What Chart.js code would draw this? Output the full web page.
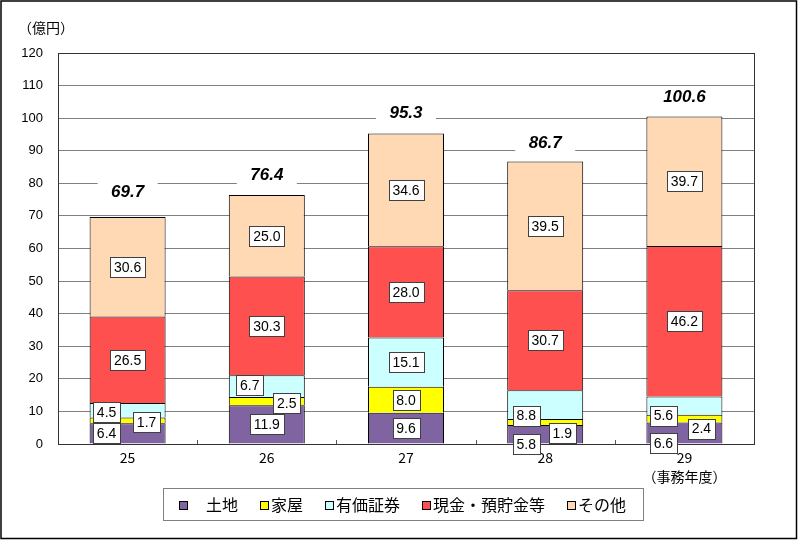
<!DOCTYPE html>
<html><head><meta charset="utf-8">
<script src="https://cdn.jsdelivr.net/npm/chart.js@4"></script>
<style>html,body{margin:0;padding:0;background:#fff}#wrap{width:800px;height:541px}</style>
</head><body><div id="wrap"><canvas id="c" width="800" height="541"></canvas></div>
<script>
// ---- data ----
const years = ['25', '26', '27', '28', ['29', '（事務年度）']];
const seriesNames = ['土地', '家屋', '有価証券', '現金・預貯金等', 'その他'];
const land = [6.4, 11.9, 9.6, 5.8, 6.6];
const houses = [1.7, 2.5, 8.0, 1.9, 2.4];
const securities = [4.5, 6.7, 15.1, 8.8, 5.6];
const cash = [26.5, 30.3, 28.0, 30.7, 46.2];
const other = [30.6, 25.0, 34.6, 39.5, 39.7];
const totals = [69.7, 76.4, 95.3, 86.7, 100.6];
const yUnit = '（億円）';

// ---- styles / layout (kept separate from data) ----
const colors = ['#8064A2', '#FFFF00', '#CCFFFF', '#FF5050', '#FFD8B4'];
const FONT = '"Liberation Sans", Arial, "Noto Sans CJK JP", sans-serif';
const JFONT = '"Noto Sans CJK JP", "Liberation Sans", sans-serif';
// label nudges [dx, dy] in px for small segments, keyed "dataset-index"
const labelNudge = {
  '0-0': [-21, 0], '1-0': [19, 2], '2-0': [-21, 2],
  '1-1': [20, 2], '2-1': [-17, -1],
  '0-3': [-19, 10], '1-3': [17, 11], '2-3': [-19, 11],
  '0-4': [-21, 10], '1-4': [17, 10], '2-4': [-21, 10]
};
const totalDy = [-25, -20, -20, -18, -19];

const seriesValues = [land, houses, securities, cash, other];

const overlay = {
  id: 'overlay',
  beforeDraw(chart) {
    const ctx = chart.ctx;
    ctx.save();
    ctx.fillStyle = '#fff';
    ctx.fillRect(0, 0, chart.width, chart.height);
    ctx.restore();
  },
  afterDatasetsDraw(chart) {
    const ctx = chart.ctx;
    const ca = chart.chartArea;
    ctx.save();
    // plot border
    ctx.strokeStyle = '#333';
    ctx.lineWidth = 1;
    ctx.strokeRect(Math.round(ca.left) + 0.5, Math.round(ca.top) + 0.5,
      Math.round(ca.right - ca.left), Math.round(ca.bottom - ca.top));
    // small category ticks
    const m0 = chart.getDatasetMeta(0).data;
    ctx.strokeStyle = '#555';
    for (let i = 0; i < m0.length - 1; i++) {
      const x = Math.round((m0[i].x + m0[i + 1].x) / 2) + 0.5;
      ctx.beginPath();
      ctx.moveTo(x, ca.bottom - 4);
      ctx.lineTo(x, ca.bottom);
      ctx.stroke();
    }
    // value labels
    ctx.font = '14px ' + FONT;
    ctx.textAlign = 'center';
    ctx.textBaseline = 'middle';
    chart.data.datasets.forEach((ds, di) => {
      const meta = chart.getDatasetMeta(di);
      meta.data.forEach((el, i) => {
        const v = ds.data[i];
        const txt = v.toFixed(1);
        const nd = labelNudge[di + '-' + i] || [0, 0];
        const cx = el.x + nd[0];
        const cy = (el.y + el.base) / 2 + nd[1];
        const w = Math.round(ctx.measureText(txt).width) + 8;
        const h = 20;
        const bx = Math.round(cx - w / 2) + 0.5, by = Math.round(cy - h / 2) + 0.5;
        ctx.fillStyle = '#fff';
        ctx.fillRect(bx, by, w, h);
        ctx.strokeStyle = '#404040';
        ctx.lineWidth = 1;
        ctx.strokeRect(bx, by, w, h);
        ctx.fillStyle = '#000';
        ctx.fillText(txt, cx, cy + 1);
      });
    });
    // totals
    const y = chart.scales.y;
    const topMeta = chart.getDatasetMeta(chart.data.datasets.length - 1).data;
    ctx.font = 'italic bold 17px ' + FONT;
    totals.forEach((t, i) => {
      const cx = topMeta[i].x;
      const cy = y.getPixelForValue(t) + totalDy[i];
      ctx.fillStyle = '#fff';
      ctx.fillRect(cx - 30, cy - 11, 60, 22);
      ctx.fillStyle = '#000';
      ctx.fillText(t.toFixed(1), cx, cy);
    });
    ctx.restore();
  },
  afterDraw(chart) {
    const ctx = chart.ctx;
    ctx.save();
    // y unit
    ctx.font = '14px ' + JFONT;
    ctx.fillStyle = '#000';
    ctx.textAlign = 'left';
    ctx.textBaseline = 'middle';
    ctx.fillText(yUnit, 18, 28);
    // legend
    const lx = 163, ly = 488, lw = 480, lh = 32;
    ctx.strokeStyle = '#808080';
    ctx.lineWidth = 1;
    ctx.strokeRect(lx + 0.5, ly + 0.5, lw, lh);
    ctx.font = '16px ' + JFONT;
    const labels = chart.data.datasets.map((d, i) => (i === 0 ? '　' : '') + d.label);
    const box = 8, gapBox = 3, gapItem = 22;
    const widths = labels.map(t => box + gapBox + ctx.measureText(t).width);
    const total = widths.reduce((a, b) => a + b, 0) + gapItem * (labels.length - 1);
    let x = Math.round(lx + lw / 2 - total / 2);
    const cy = ly + lh / 2 + 0.5;
    labels.forEach((t, i) => {
      ctx.fillStyle = chart.data.datasets[i].backgroundColor;
      ctx.fillRect(x + 0.5, Math.round(cy - box / 2) + 0.5, box, box);
      ctx.strokeStyle = '#000';
      ctx.strokeRect(x + 0.5, Math.round(cy - box / 2) + 0.5, box, box);
      ctx.fillStyle = '#000';
      ctx.fillText(t, x + box + gapBox, cy);
      x += widths[i] + gapItem;
    });
    // outer frame
    ctx.strokeStyle = '#000';
    ctx.lineWidth = 1.5;
    ctx.strokeRect(1, 1, 795.5, 537.5);
    ctx.restore();
  }
};

new Chart(document.getElementById('c'), {
  type: 'bar',
  data: {
    labels: years,
    datasets: seriesNames.map((n, i) => ({
      label: n,
      data: seriesValues[i],
      backgroundColor: colors[i],
      borderColor: '#000',
      borderWidth: 1,
      borderSkipped: 'start',
      barPercentage: 0.546,
      categoryPercentage: 1.0
    }))
  },
  options: {
    responsive: false,
    devicePixelRatio: 1,
    animation: false,
    layout: { padding: { left: 0, right: 46, top: 53, bottom: 0 } },
    plugins: { legend: { display: false }, tooltip: { enabled: false } },
    scales: {
      x: {
        stacked: true,
        grid: { display: false, drawTicks: false },
        border: { display: false },
        ticks: { color: '#000', font: { size: 14, family: JFONT, lineHeight: 1.3 }, padding: 5, maxRotation: 0 },
        afterFit(s) { s.height = 97; }
      },
      y: {
        stacked: true,
        min: 0, max: 120,
        grid: { color: '#808080', lineWidth: 1, drawTicks: false },
        border: { display: false },
        ticks: { stepSize: 10, color: '#000', font: { size: 13, family: FONT }, padding: 15 },
        afterFit(s) { s.width = 58; }
      }
    }
  },
  plugins: [overlay]
});
</script>
</body></html>
